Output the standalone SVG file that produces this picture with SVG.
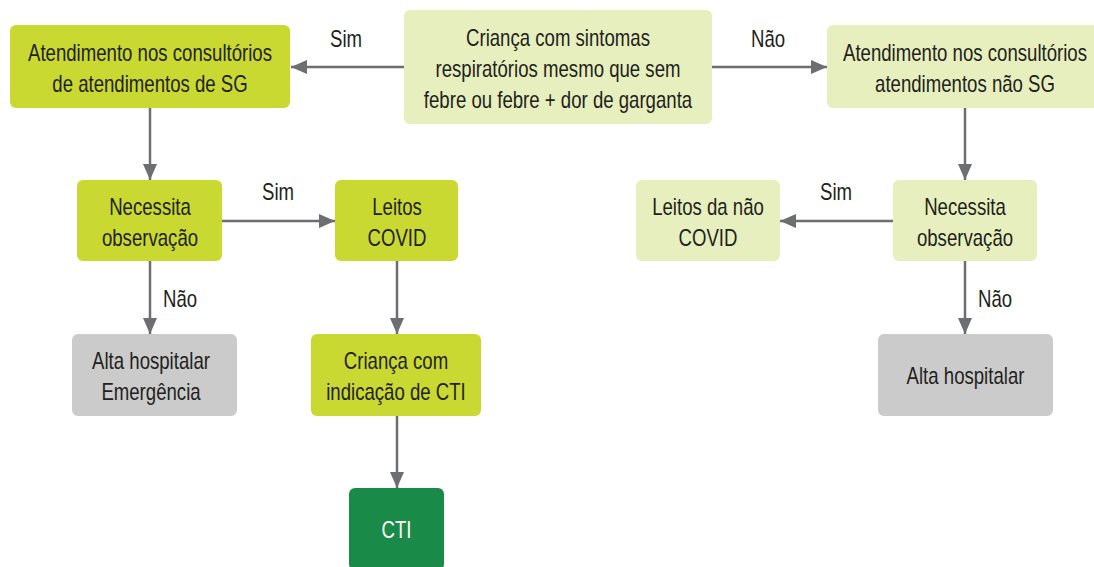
<svg xmlns="http://www.w3.org/2000/svg" width="1094" height="567" viewBox="0 0 1094 567">
<style>
.t{font-family:"Liberation Sans",Arial,sans-serif;font-size:24px;fill:#231f20;text-anchor:middle}
.w{fill:#ffffff}
.g1{fill:#c9d932}
.g2{fill:#e6efbd}
.gr{fill:#cbcbcb}
.dk{fill:#1a8a48}
.c{stroke:#6d6e71;stroke-width:2.5;fill:none;marker-end:url(#ah)}
</style>
<defs>
<marker id="ah" markerUnits="userSpaceOnUse" markerWidth="16" markerHeight="14" refX="16" refY="7" orient="auto">
<path d="M0,0 L16,7 L0,14 Z" fill="#6d6e71"/>
</marker>
</defs>
<rect width="1094" height="567" fill="#ffffff"/>
<g id="connectors">
<line class="c" x1="404" y1="67" x2="291" y2="67"/>
<line class="c" x1="712" y1="67" x2="827" y2="67"/>
<line class="c" x1="150" y1="108" x2="150" y2="180"/>
<line class="c" x1="222" y1="221" x2="335" y2="221"/>
<line class="c" x1="150" y1="261" x2="150" y2="334"/>
<line class="c" x1="397" y1="261" x2="397" y2="334"/>
<line class="c" x1="397" y1="416" x2="397" y2="488"/>
<line class="c" x1="965" y1="108" x2="965" y2="180"/>
<line class="c" x1="893" y1="221" x2="780" y2="221"/>
<line class="c" x1="965" y1="261" x2="965" y2="334"/>
<text class="t" transform="translate(346,0) scale(0.775,1)" x="0" y="47">Sim</text>
<text class="t" transform="translate(768,0) scale(0.775,1)" x="0" y="47">Não</text>
<text class="t" transform="translate(278,0) scale(0.775,1)" x="0" y="200">Sim</text>
<text class="t" transform="translate(180,0) scale(0.775,1)" x="0" y="307">Não</text>
<text class="t" transform="translate(836,0) scale(0.775,1)" x="0" y="200">Sim</text>
<text class="t" transform="translate(995,0) scale(0.775,1)" x="0" y="307">Não</text>
</g>
<g id="n-start">
<rect class="g2" x="404" y="10" width="308" height="114" rx="6"/>
<text class="t" transform="translate(558,0) scale(0.775,1)"><tspan x="0" y="46">Criança com sintomas</tspan><tspan x="0" y="77">respiratórios mesmo que sem</tspan><tspan x="0" y="108">febre ou febre + dor de garganta</tspan></text>
</g>
<g id="n-sg">
<rect class="g1" x="10" y="25" width="280" height="83" rx="6"/>
<text class="t" transform="translate(150,0) scale(0.775,1)"><tspan x="0" y="61">Atendimento nos consultórios</tspan><tspan x="0" y="92">de atendimentos de SG</tspan></text>
</g>
<g id="n-naosg">
<rect class="g2" x="827" y="25" width="280" height="83" rx="6"/>
<text class="t" transform="translate(965,0) scale(0.775,1)"><tspan x="0" y="61">Atendimento nos consultórios</tspan><tspan x="0" y="92">atendimentos não SG</tspan></text>
</g>
<g id="n-obs1">
<rect class="g1" x="77" y="180" width="145" height="81" rx="6"/>
<text class="t" transform="translate(150,0) scale(0.775,1)"><tspan x="0" y="215">Necessita</tspan><tspan x="0" y="246">observação</tspan></text>
</g>
<g id="n-leitos">
<rect class="g1" x="335" y="180" width="123" height="81" rx="6"/>
<text class="t" transform="translate(397,0) scale(0.775,1)"><tspan x="0" y="215">Leitos</tspan><tspan x="0" y="246">COVID</tspan></text>
</g>
<g id="n-alta1">
<rect class="gr" x="72" y="334" width="165" height="82" rx="6"/>
<text class="t" transform="translate(151,0) scale(0.775,1)"><tspan x="0" y="369">Alta hospitalar</tspan><tspan x="0" y="400">Emergência</tspan></text>
</g>
<g id="n-indic">
<rect class="g1" x="311" y="334" width="170" height="82" rx="6"/>
<text class="t" transform="translate(396,0) scale(0.775,1)"><tspan x="0" y="369">Criança com</tspan><tspan x="0" y="400">indicação de CTI</tspan></text>
</g>
<g id="n-cti">
<rect class="dk" x="349" y="488" width="95" height="82" rx="6"/>
<text class="t w" transform="translate(396.5,0) scale(0.775,1)" x="0" y="538">CTI</text>
</g>
<g id="n-leitosnao">
<rect class="g2" x="636" y="180" width="144" height="81" rx="6"/>
<text class="t" transform="translate(708,0) scale(0.775,1)"><tspan x="0" y="215">Leitos da não</tspan><tspan x="0" y="246">COVID</tspan></text>
</g>
<g id="n-obs2">
<rect class="g2" x="893" y="180" width="144" height="81" rx="6"/>
<text class="t" transform="translate(965,0) scale(0.775,1)"><tspan x="0" y="215">Necessita</tspan><tspan x="0" y="246">observação</tspan></text>
</g>
<g id="n-alta2">
<rect class="gr" x="878" y="334" width="175" height="82" rx="6"/>
<text class="t" transform="translate(965.5,0) scale(0.775,1)" x="0" y="384">Alta hospitalar</text>
</g>
</svg>
